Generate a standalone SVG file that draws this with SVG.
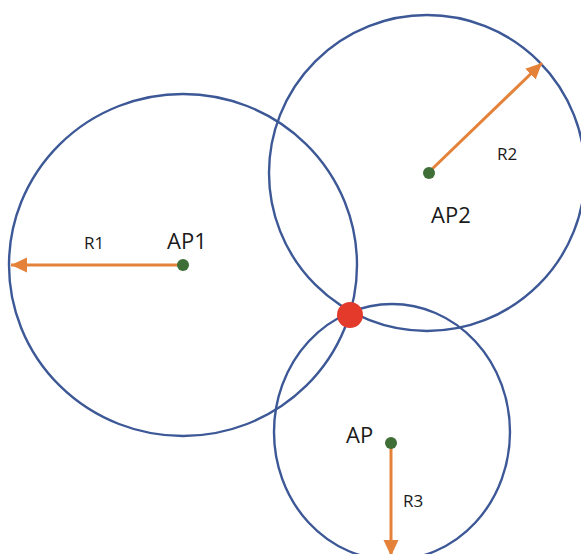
<svg xmlns="http://www.w3.org/2000/svg" width="581" height="554" viewBox="0 0 581 554">
<style>
.ring{fill:none;stroke:#3d5896;stroke-width:2.4}
.ap{fill:#3f6e36}
.arr{stroke:#e4823a;stroke-width:3;fill:none;marker-end:url(#ah)}
.lbl{font-family:"Open Sans","Liberation Sans",sans-serif;fill:#1a1a1a}
.big{font-size:22px}
.sm{font-size:17px}
</style>
<defs>
<marker id="ah" markerUnits="userSpaceOnUse" markerWidth="18" markerHeight="16" refX="16" refY="7.5" orient="auto">
<path d="M0,0 L16,7.5 L0,15 Z" fill="#e4823a"/>
</marker>
</defs>
<rect width="581" height="554" fill="#ffffff"/>
<g id="circle1"><ellipse class="ring" cx="183" cy="265" rx="174" ry="171"/></g>
<g id="circle2"><circle class="ring" cx="427" cy="173" r="158"/></g>
<g id="circle3"><ellipse class="ring" cx="392" cy="432" rx="118" ry="128"/></g>
<g id="connectors">
<line class="arr" x1="183" y1="265" x2="11" y2="265"/>
<line class="arr" x1="429" y1="172" x2="542" y2="63"/>
<line class="arr" x1="391" y1="443" x2="391" y2="556"/>
</g>
<g id="AP1">
<circle class="ap" cx="183" cy="265" r="6"/>
<text class="lbl big" x="167" y="249">AP1</text>
<text class="lbl sm" x="84" y="249">R1</text>
</g>
<g id="AP2">
<circle class="ap" cx="429" cy="173" r="6"/>
<text class="lbl big" x="431" y="223">AP2</text>
<text class="lbl sm" x="497" y="160">R2</text>
</g>
<g id="AP3">
<circle class="ap" cx="391" cy="443" r="6"/>
<text class="lbl big" x="346" y="443">AP</text>
<text class="lbl sm" x="403" y="507">R3</text>
</g>
<g id="intersection"><circle cx="350" cy="315" r="13" fill="#e33a2c"/></g>
</svg>
